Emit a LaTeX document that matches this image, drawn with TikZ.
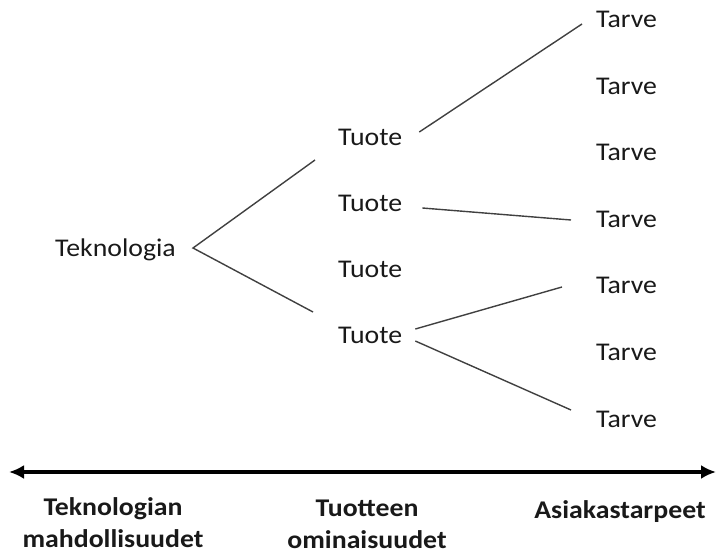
\documentclass[tikz,border=0pt]{standalone}
\usepackage{fontspec}
\setmainfont{Carlito}[FakeStretch=1.09]
\usetikzlibrary{arrows.meta}
\begin{document}
\begin{tikzpicture}[x=1pt,y=-1pt,
  lbl/.style={inner sep=0pt,anchor=base west,text=black!90,
    font=\fontsize{25.5}{33}\selectfont},
  axislbl/.style={inner sep=0pt,anchor=base,align=center,text=black!90,
    font=\fontsize{25.5}{32}\selectfont\bfseries},
  link/.style={draw=black!75,line width=1.4pt},
  axis/.style={draw=black,line width=3.6pt,
    {Latex[length=15pt,width=14pt]}-{Latex[length=15pt,width=14pt]}}]
\useasboundingbox (0,0) rectangle (717,553);

% technology
\node[lbl] (tek) at (55,257) {Teknologia};

% products
\node[lbl] (p1) at (338,146) {Tuote};
\node[lbl] (p2) at (338,212) {Tuote};
\node[lbl] (p3) at (338,277.5) {Tuote};
\node[lbl] (p4) at (338,343) {Tuote};

% customer needs
\foreach \i in {1,...,7}
  \node[lbl] (n\i) at (596,{28+66.5*(\i-1)}) {Tarve};

% branches from technology to products
\draw[link] ([shift={(-23pt,-14pt)}]p1.base west)
  -- ([shift={(17pt,9pt)}]tek.base east)
  -- ([shift={(-25pt,31pt)}]p4.base west);

% branches from products to needs
\draw[link] ([shift={(17pt,14pt)}]p1.base east) -- ([shift={(-14pt,4pt)}]n1.base west);
\draw[link] ([shift={(20pt,4pt)}]p2.base east) -- ([shift={(-25pt,7.5pt)}]n4.base west);
\draw[link] ([shift={(13pt,14pt)}]p4.base east) -- ([shift={(-34pt,7pt)}]n5.base west);
\draw[link] ([shift={(13pt,2pt)}]p4.base east) -- ([shift={(-25pt,17pt)}]n7.base west);

% axis
\coordinate (axL) at (9,472);
\coordinate (axR) at (716,472);
\draw[axis] (axL) -- (axR);

% axis labels (anchor sits on the baseline of the last line)
\node[axislbl] (a1) at (113,547) {Teknologian\\mahdollisuudet};
\node[axislbl] (a2) at (367,548) {Tuotteen\\ominaisuudet};
\node[axislbl] (a3) at (620,518) {Asiakastarpeet};
\end{tikzpicture}
\end{document}
